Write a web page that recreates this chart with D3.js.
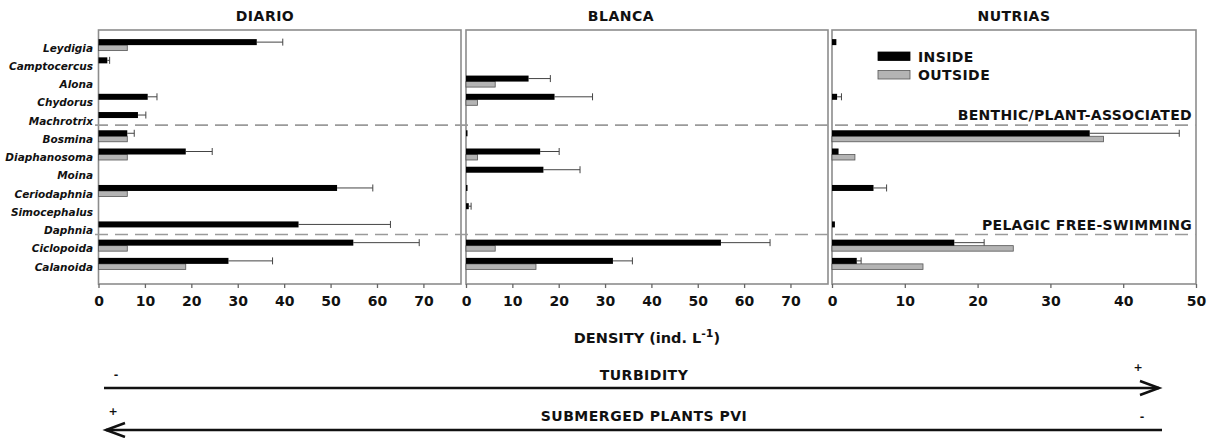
<!DOCTYPE html>
<html>
<head>
<meta charset="utf-8">
<script src="https://cdnjs.cloudflare.com/ajax/libs/d3/7.8.5/d3.min.js"></script>
<style>
body { margin: 0; background: #fff; }
svg text { font-family: "DejaVu Sans", Verdana, sans-serif; font-weight: bold; fill: #111; }
</style>
</head>
<body>
<div class="visHolder"></div>
<script>
var taxa = ["Leydigia", "Camptocercus", "Alona", "Chydorus", "Machrotrix", "Bosmina", "Diaphanosoma",
    "Moina", "Ceriodaphnia", "Simocephalus", "Daphnia", "Ciclopoida", "Calanoida"]
var sites = ["DIARIO", "BLANCA", "NUTRIAS"]

// mean density inside / outside the plant beds, and top of the error bar (inside)
var diarioInside = [34.1, 1.9, 0, 10.6, 8.5, 6.2, 18.8, 0, 51.4, 0, 43.1, 54.9, 28.0]
var diarioOutside = [6.2, 0, 0, 0, 0, 6.2, 6.2, 0, 6.2, 0, 0, 6.2, 18.8]
var diarioError = [39.7, 2.4, 0, 12.6, 10.2, 7.7, 24.5, 0, 59.1, 0, 62.9, 69.1, 37.5]

var blancaInside = [0, 0, 13.5, 19.1, 0, 0.3, 16.0, 16.7, 0.2, 0.6, 0, 55.0, 31.7]
var blancaOutside = [0, 0, 6.3, 2.5, 0, 0, 2.5, 0, 0, 0, 0, 6.3, 15.1]
var blancaError = [0, 0, 18.2, 27.3, 0, 0, 20.1, 24.6, 0, 1.1, 0, 65.6, 35.9]

var nutriasInside = [0.6, 0, 0, 0.7, 0, 35.4, 0.9, 0, 5.7, 0, 0.4, 16.8, 3.4]
var nutriasOutside = [0, 0, 0, 0, 0, 37.3, 3.15, 0, 0, 0, 0, 24.9, 12.5]
var nutriasError = [0, 0, 0, 1.3, 0, 47.7, 0, 0, 7.5, 0, 0, 20.9, 4.0]

var ticks7 = [0, 10, 20, 30, 40, 50, 60, 70]
var ticks5 = [0, 10, 20, 30, 40, 50]

var groupStarts = ["Bosmina", "Ciclopoida"]
var groupLabels = ["BENTHIC/PLANT-ASSOCIATED", "PELAGIC FREE-SWIMMING"]

var inside = [diarioInside, blancaInside, nutriasInside]
var outside = [diarioOutside, blancaOutside, nutriasOutside]
var errors = [diarioError, blancaError, nutriasError]
var tickSets = [ticks7, ticks7, ticks5]
var maxes = [78.1, 78.1, 50]

var width = 1213
var height = 438
var plotTop = 30
var plotBottom = 284
var panelLeft = [98.5, 466, 832]
var panelRight = [461, 828, 1196]
var titleX = [265, 621, 1014]

var svg = d3.select('.visHolder')
    .append('svg')
    .attr('width', width)
    .attr('height', height)

var yScale = d3.scaleBand()
    .domain(taxa)
    .range([39, 276])
var bw = yScale.bandwidth()
var mid = (t) => yScale(t) + bw / 2 - 3

// taxon labels
svg.append('g').selectAll('text')
    .data(taxa)
    .enter()
    .append('text')
    .attr('x', 93)
    .attr('y', (d) => yScale(d) + bw / 2)
    .attr('dy', '0.35em')
    .attr('text-anchor', 'end')
    .style('font-size', '10.5px')
    .style('font-style', 'italic')
    .text((d) => d)

sites.forEach(function(site, p) {
    var xScale = d3.scaleLinear()
        .domain([0, maxes[p]])
        .range([panelLeft[p], panelRight[p]])

    var g = svg.append('g')

    g.append('rect')
        .attr('x', panelLeft[p])
        .attr('y', plotTop)
        .attr('width', panelRight[p] - panelLeft[p])
        .attr('height', plotBottom - plotTop)
        .style('fill', 'none')
        .style('stroke', '#8c8c8c')
        .style('stroke-width', 1.6)

    g.append('text')
        .attr('x', titleX[p])
        .attr('y', 21)
        .attr('text-anchor', 'middle')
        .style('font-size', '14px')
        .style('letter-spacing', '0.5px')
        .text(site)

    var axis = g.append('g')
        .attr('transform', `translate(0, ${plotBottom})`)
        .call(d3.axisBottom(xScale).tickValues(tickSets[p]).tickSize(4).tickPadding(8))
    axis.select('.domain').remove()
    axis.selectAll('line').style('stroke', '#666').style('stroke-width', 1.3)
    axis.selectAll('text')
        .style('font-size', '14px')
        .style('font-family', '"DejaVu Sans", Verdana, sans-serif')
        .style('font-weight', 'bold')
        .style('fill', '#111')

    var rows = taxa.map((t, i) => ({ t: t, a: inside[p][i], b: outside[p][i], e: errors[p][i] }))

    // error bars
    var eb = g.selectAll('.err')
        .data(rows.filter((d) => d.e > d.a))
        .enter()
        .append('g')
        .attr('class', 'err')
    eb.append('line')
        .attr('x1', (d) => xScale(d.a))
        .attr('x2', (d) => xScale(d.e))
        .attr('y1', (d) => mid(d.t) - 3)
        .attr('y2', (d) => mid(d.t) - 3)
        .style('stroke', '#444')
        .style('stroke-width', 1)
    eb.append('line')
        .attr('x1', (d) => xScale(d.e))
        .attr('x2', (d) => xScale(d.e))
        .attr('y1', (d) => mid(d.t) - 6.5)
        .attr('y2', (d) => mid(d.t) + 0.5)
        .style('stroke', '#444')
        .style('stroke-width', 1)

    g.selectAll('.out')
        .data(rows.filter((d) => d.b > 0))
        .enter()
        .append('rect')
        .attr('class', 'out')
        .attr('x', xScale(0))
        .attr('y', (d) => mid(d.t))
        .attr('width', (d) => xScale(d.b) - xScale(0))
        .attr('height', 5.5)
        .style('fill', '#b4b4b4')
        .style('stroke', '#555')
        .style('stroke-width', 0.8)

    g.selectAll('.in')
        .data(rows.filter((d) => d.a > 0))
        .enter()
        .append('rect')
        .attr('class', 'in')
        .attr('x', xScale(0))
        .attr('y', (d) => mid(d.t) - 6)
        .attr('width', (d) => Math.max(xScale(d.a) - xScale(0), 1.5))
        .attr('height', 6)
        .style('fill', '#000')
})

// group separators
groupStarts.forEach(function(t, i) {
    var y = yScale(t) - 5
    svg.append('line')
        .attr('x1', 95)
        .attr('x2', 1196)
        .attr('y1', y)
        .attr('y2', y)
        .style('stroke', '#9a9a9a')
        .style('stroke-width', 1.6)
        .style('stroke-dasharray', '13,7')
    svg.append('text')
        .attr('x', 1192)
        .attr('y', y - 5)
        .attr('text-anchor', 'end')
        .style('font-size', '14px')
        .style('letter-spacing', '0.3px')
        .text(groupLabels[i])
})

// legend
var legend = [["INSIDE", "#000", "#000"], ["OUTSIDE", "#b4b4b4", "#555"]]
legend.forEach(function(l, i) {
    svg.append('rect')
        .attr('x', 878)
        .attr('y', 52 + i * 18.5)
        .attr('width', 32)
        .attr('height', 8.5)
        .style('fill', l[1])
        .style('stroke', l[2])
        .style('stroke-width', 0.8)
    svg.append('text')
        .attr('x', 918)
        .attr('y', 61.5 + i * 18.5)
        .style('font-size', '14px')
        .style('letter-spacing', '0.4px')
        .text(l[0])
})

// x axis title
var xt = svg.append('text')
    .attr('x', 647)
    .attr('y', 343)
    .attr('text-anchor', 'middle')
    .style('font-size', '14.5px')
xt.append('tspan').text('DENSITY (ind. L')
xt.append('tspan').attr('dy', -6).style('font-size', '11px').text('-1')
xt.append('tspan').attr('dy', 6).text(')')

// gradient arrows
function arrow(y, x1, x2) {
    var dir = x2 > x1 ? 1 : -1
    svg.append('line')
        .attr('x1', x1).attr('x2', x2)
        .attr('y1', y).attr('y2', y)
        .style('stroke', '#111')
        .style('stroke-width', 2.5)
    svg.append('polyline')
        .attr('points', [[x2 - dir * 19, y - 7], [x2, y], [x2 - dir * 19, y + 7]].join(' '))
        .style('fill', 'none')
        .style('stroke', '#111')
        .style('stroke-width', 2.5)
}
arrow(388, 104, 1159)
arrow(430, 1162, 106)

svg.append('text').attr('x', 644).attr('y', 380).attr('text-anchor', 'middle')
    .style('font-size', '14px').style('letter-spacing', '0.5px').text('TURBIDITY')
svg.append('text').attr('x', 644).attr('y', 421).attr('text-anchor', 'middle')
    .style('font-size', '14px').style('letter-spacing', '0.5px').text('SUBMERGED PLANTS PVI')

var signs = [["-", 116, 374], ["+", 1138, 367], ["+", 113, 411], ["-", 1142, 416]]
svg.selectAll('.sign')
    .data(signs)
    .enter()
    .append('text')
    .attr('class', 'sign')
    .attr('x', (d) => d[1])
    .attr('y', (d) => d[2])
    .attr('dy', '0.35em')
    .attr('text-anchor', 'middle')
    .style('font-size', '11px')
    .text((d) => d[0])
</script>
</body>
</html>
